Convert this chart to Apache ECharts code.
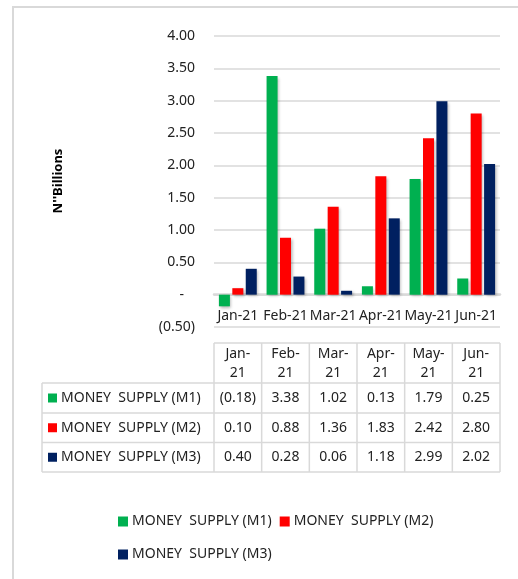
<!DOCTYPE html>
<html>
<head>
<meta charset="utf-8">
<script src="https://cdn.jsdelivr.net/npm/echarts@6/dist/echarts.min.js"></script>
<style>
    html, body { margin: 0; padding: 0; background: #fff; }
    #chart { width: 518px; height: 579px; }
</style>
</head>
<body>
<div id="chart"></div>
<script>
var months = ['Jan-21', 'Feb-21', 'Mar-21', 'Apr-21', 'May-21', 'Jun-21'];
var seriesNames = ['MONEY  SUPPLY (M1)', 'MONEY  SUPPLY (M2)', 'MONEY  SUPPLY (M3)'];
var m1 = [-0.18, 3.38, 1.02, 0.13, 1.79, 0.25];
var m2 = [0.10, 0.88, 1.36, 1.83, 2.42, 2.80];
var m3 = [0.40, 0.28, 0.06, 1.18, 2.99, 2.02];
var colors = ['#00B050', '#FF0000', '#002060'];
var yName = "N''Billions";

var font = 'Noto Sans';
var gridColor = '#d9d9d9';

// 会计格式：负数加括号，零显示为 -
function fmt(v) {
    if (v === 0) return '-   ';
    if (v < 0) return '(' + Math.abs(v).toFixed(2) + ')';
    return v.toFixed(2);
}

var chart = echarts.init(document.getElementById('chart'));

// 图下方的数据表
var gl = 214, gr = 500, gt = 36, gb = 327, colW = (gr - gl) / months.length;
var yMin = -0.5, yMax = 4;
var labelLeft = 42;
var rowTops = [343, 383, 413, 442.5, 472];
var allData = [m1, m2, m3];
var graphics = [];

// 外框
graphics.push({
    type: 'rect', shape: {x: 13, y: 7, width: 540, height: 600},
    style: {fill: null, stroke: gridColor, lineWidth: 2}, silent: true
});
// y轴标题
graphics.push({
    type: 'text', x: 58, y: 181, rotation: Math.PI / 2,
    style: {text: yName, fontFamily: font, fontSize: 13, fontWeight: 'bold', fill: '#000', align: 'center', verticalAlign: 'middle'}
});

function hline(y, x1, x2) {
    graphics.push({type: 'line', shape: {x1: x1, y1: y, x2: x2, y2: y}, style: {stroke: gridColor, lineWidth: 1.5}, silent: true});
}
function vline(x, y1, y2) {
    graphics.push({type: 'line', shape: {x1: x, y1: y1, x2: x, y2: y2}, style: {stroke: gridColor, lineWidth: 1.5}, silent: true});
}

hline(rowTops[0], gl, gr);
for (var r = 1; r < rowTops.length; r++) hline(rowTops[r], labelLeft, gr);
vline(labelLeft, rowTops[1], rowTops[4]);
for (var c = 0; c <= months.length; c++) vline(gl + c * colW, rowTops[0], rowTops[4]);

months.forEach(function (m, i) {
    var parts = m.split('-');
    var cx = gl + (i + 0.5) * colW;
    graphics.push({type: 'text', x: cx, y: 354, style: {text: parts[0] + '-', fontFamily: font, fontSize: 14, fill: '#222', align: 'center', verticalAlign: 'middle'}});
    graphics.push({type: 'text', x: cx, y: 373, style: {text: parts[1], fontFamily: font, fontSize: 14, fill: '#222', align: 'center', verticalAlign: 'middle'}});
});

allData.forEach(function (arr, s) {
    var cy = (rowTops[s + 1] + rowTops[s + 2]) / 2;
    graphics.push({type: 'rect', shape: {x: 48, y: cy - 4.5, width: 9, height: 9}, style: {fill: colors[s]}});
    graphics.push({type: 'text', x: 61, y: cy, style: {text: seriesNames[s], fontFamily: font, fontSize: 14, fill: '#222', align: 'left', verticalAlign: 'middle'}});
    arr.forEach(function (v, i) {
        graphics.push({type: 'text', x: gl + (i + 0.5) * colW, y: cy, style: {text: fmt(v), fontFamily: font, fontSize: 14, fill: '#222', align: 'center', verticalAlign: 'middle'}});
    });
});

var barStyle = function (color) {
    return {color: color, shadowColor: 'rgba(0,0,0,0.3)', shadowBlur: 3, shadowOffsetX: 1.5, shadowOffsetY: 1.5};
};

// 类目轴放在零线上（标签跟着零线走）
var zeroOffset = -(gb - gt) * (0 - yMin) / (yMax - yMin);

var option = {
    animation: false,
    textStyle: {fontFamily: font},
    grid: {left: gl, right: 518 - gr, top: gt, bottom: 579 - gb, containLabel: false},
    legend: {
        left: 113, top: 504, width: 330,
        itemWidth: 10, itemHeight: 10, itemGap: 8, icon: 'rect',
        textStyle: {fontFamily: font, fontSize: 14, color: '#222', lineHeight: 25, padding: [0, 0, 0, -1]},
        data: seriesNames
    },
    xAxis: {
        type: 'category', data: months, position: 'bottom', offset: zeroOffset,
        axisLine: {onZero: false, lineStyle: {color: gridColor, width: 2.5}},
        axisTick: {show: false},
        axisLabel: {interval: 0, margin: 14, fontFamily: font, fontSize: 14, color: '#222'}
    },
    yAxis: {
        type: 'value', min: yMin, max: yMax, interval: 0.5,
        axisLine: {show: false}, axisTick: {show: false},
        splitLine: {lineStyle: {color: gridColor, width: 1.5}},
        axisLabel: {margin: 19, fontFamily: font, fontSize: 14, color: '#222', formatter: fmt}
    },
    series: allData.map(function (arr, s) {
        return {
            name: seriesNames[s], type: 'bar', data: arr,
            barWidth: 11, barGap: '22%',
            itemStyle: barStyle(colors[s])
        };
    }),
    graphic: graphics
};

chart.setOption(option);
</script>
</body>
</html>
